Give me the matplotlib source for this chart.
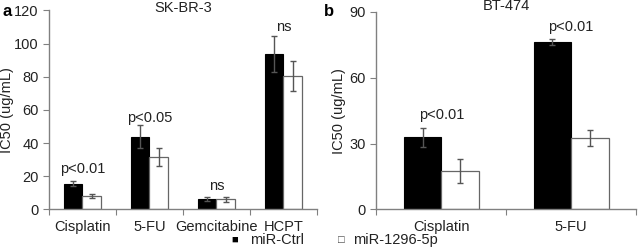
import matplotlib.pyplot as plt
import numpy as np

plt.rcParams['font.family'] = ['Liberation Sans', 'DejaVu Sans']

# panel a: SK-BR-3
drugs_a = ['Cisplatin', '5-FU', 'Gemcitabine', 'HCPT']
ctrl_a = [15.5, 43.9, 6.5, 93.8]
ctrl_err_a = [1.5, 7.0, 1.2, 11.0]
mir_a = [8.0, 31.5, 6.0, 80.7]
mir_err_a = [1.2, 5.5, 1.3, 9.0]
sig_a = ['p<0.01', 'p<0.05', 'ns', 'ns']
sig_y_a = [20, 51, 10, 106]

# panel b: BT-474
drugs_b = ['Cisplatin', '5-FU']
ctrl_b = [32.8, 76.3]
ctrl_err_b = [4.2, 1.3]
mir_b = [17.6, 32.6]
mir_err_b = [5.5, 3.6]
sig_b = ['p<0.01', 'p<0.01']
sig_y_b = [40, 80]

fig = plt.figure(figsize=(6.38, 2.52), dpi=100)
ax1 = fig.add_axes([0.0768, 0.1694, 0.420, 0.789])
ax2 = fig.add_axes([0.590, 0.1694, 0.407, 0.783])

spine_col = '#808080'
txt_col = '#222222'


def draw(ax, drugs, ctrl, ctrl_err, mir, mir_err, sig, sig_y, ymax, yticks, bw, ylab_x):
    x = np.arange(len(drugs))
    ek = dict(ecolor='#555555', elinewidth=1.0, capsize=2, capthick=1.0)
    ax.bar(x - bw / 2, ctrl, bw, color='black', edgecolor='black', linewidth=0.8,
           yerr=ctrl_err, error_kw=ek, zorder=2)
    ax.bar(x + bw / 2, mir, bw, color='white', edgecolor='#666666', linewidth=0.9,
           yerr=mir_err, error_kw=ek, zorder=2)
    for xi, s, yy in zip(x, sig, sig_y):
        ax.text(xi, yy, s, ha='center', va='bottom', fontsize=10.5, color=txt_col)
    ax.set_xlim(-0.5, len(drugs) - 0.5)
    ax.set_ylim(0, ymax)
    ax.set_yticks(yticks)
    ax.set_xticks(np.arange(len(drugs) + 1) - 0.5, minor=False)
    ax.set_xticklabels([])
    ax.set_xticks(x, minor=True)
    ax.set_xticklabels(drugs, minor=True)
    ax.tick_params(axis='x', which='minor', length=0, labelsize=10.5, colors=txt_col, pad=8)
    ax.tick_params(axis='x', which='major', length=4, color=spine_col, direction='out')
    ax.tick_params(axis='y', length=4, color=spine_col, labelsize=10.5, labelcolor=txt_col)
    for side in ['top', 'right']:
        ax.spines[side].set_visible(False)
    for side in ['left', 'bottom']:
        ax.spines[side].set_color(spine_col)
        ax.spines[side].set_linewidth(1.0)
    ax.set_ylabel('IC50 (ug/mL)', fontsize=10.5, color=txt_col)
    ax.yaxis.set_label_coords(ylab_x, 0.5)


draw(ax1, drugs_a, ctrl_a, ctrl_err_a, mir_a, mir_err_a, sig_a, sig_y_a,
     120, [0, 20, 40, 60, 80, 100, 120], 0.28, -0.13)
draw(ax2, drugs_b, ctrl_b, ctrl_err_b, mir_b, mir_err_b, sig_b, sig_y_b,
     90, [0, 30, 60, 90], 0.29, -0.118)

fig.text(0.287, 0.970, 'SK-BR-3', fontsize=10.5, ha='center', va='center', color=txt_col)
fig.text(0.794, 0.975, 'BT-474', fontsize=10.5, ha='center', va='center', color=txt_col)

fig.text(0.004, 0.955, 'a', fontsize=12, fontweight='bold', va='center')
fig.text(0.508, 0.955, 'b', fontsize=12, fontweight='bold', va='center')

# legend
fig.text(0.362, 0.048, '\u25a0', fontsize=8, va='center', ha='left')
fig.text(0.392, 0.048, 'miR-Ctrl', fontsize=10.5, va='center', ha='left', color=txt_col)
fig.text(0.530, 0.048, '\u25a1', fontsize=8, va='center', ha='left', color='#444444')
fig.text(0.553, 0.048, 'miR-1296-5p', fontsize=10.5, va='center', ha='left', color=txt_col)

plt.savefig('out.png', dpi=100)
